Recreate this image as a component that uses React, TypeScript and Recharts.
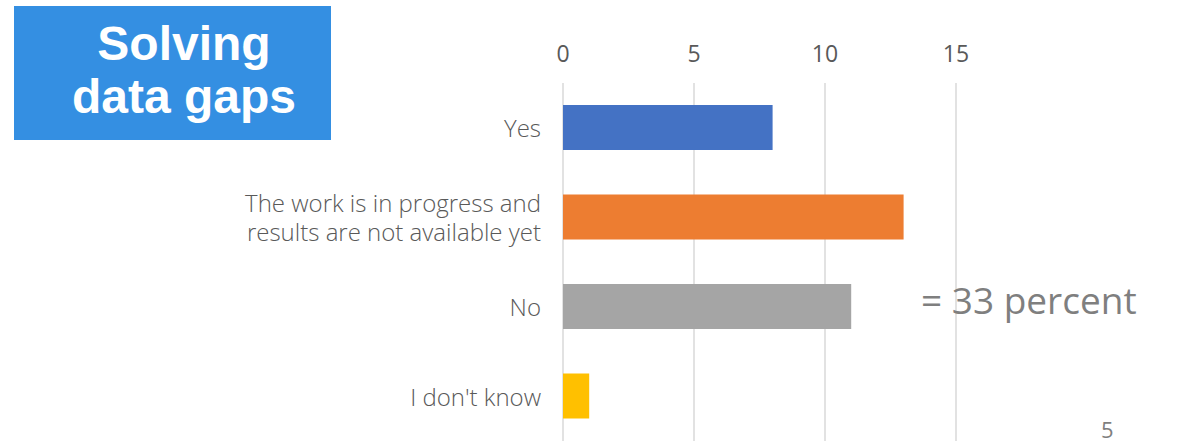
import React from "react";
import { BarChart, Bar, XAxis, YAxis, CartesianGrid, Cell } from "recharts";

const categories = ["Yes", "The work is in progress and\nresults are not available yet", "No", "I don't know"];
const values = [8, 13, 11, 1];
const colors = ["#4472C4", "#ED7D31", "#A5A5A5", "#FFC000"];
const xTicks = [0, 5, 10, 15];

const data = categories.map((c, i) => ({ name: c, value: values[i] }));

const CatTick = (props: any) => {
  const { x, y, payload } = props;
  const lines = String(payload.value).split("\n");
  const lh = 29;
  const start = -((lines.length - 1) * lh) / 2;
  return (
    <text
      x={x}
      y={y}
      textAnchor="end"
      fill="#595959"
      fontFamily="'Open Sans', sans-serif"
      fontWeight={300}
      fontSize={24}
    >
      {lines.map((l, i) => (
        <tspan key={i} x={x} dy={i === 0 ? start : lh} dominantBaseline="central">
          {l}
        </tspan>
      ))}
    </text>
  );
};

export default function App() {
  return (
    <div style={{ position: "absolute", left: 0, top: 0, width: 1191, height: 441, background: "#fff", overflow: "hidden" }}>
      <BarChart
        width={1191}
        height={441}
        data={data}
        layout="vertical"
        margin={{ top: 43, right: 235, bottom: 0, left: 0 }}
        barSize={45}
      >
        <CartesianGrid horizontal={false} stroke="#d9d9d9" strokeWidth={1.5} />
        <XAxis
          type="number"
          orientation="top"
          domain={[0, 15]}
          ticks={xTicks}
          height={40}
          axisLine={false}
          tickLine={false}
          tickMargin={15}
          tick={{ fill: "#595959", fontSize: 23, fontFamily: "'Open Sans', sans-serif", fontWeight: 400 }}
        />
        <YAxis
          type="category"
          dataKey="name"
          width={563}
          axisLine={false}
          tickLine={false}
          tickMargin={16}
          tick={<CatTick />}
        />
        <Bar dataKey="value" isAnimationActive={false}>
          {data.map((d, i) => (
            <Cell key={i} fill={colors[i]} />
          ))}
        </Bar>
      </BarChart>
      <div
        style={{
          position: "absolute",
          left: 14,
          top: 6,
          width: 317,
          height: 134,
          background: "#348FE2",
        }}
      />
      <div
        style={{
          position: "absolute",
          left: 34,
          top: 17,
          width: 300,
          textAlign: "center",
          color: "#fff",
          fontFamily: "'Liberation Sans', Arial, sans-serif",
          fontWeight: 700,
          fontSize: 48,
          lineHeight: "53px",
        }}
      >
        Solving
        <br />
        data gaps
      </div>
      <div
        style={{
          position: "absolute",
          left: 921,
          top: 278,
          color: "#7f7f7f",
          fontFamily: "'Open Sans', sans-serif",
          fontSize: 37,
          lineHeight: "44px",
          whiteSpace: "nowrap",
        }}
      >
        = 33 percent
      </div>
      <div
        style={{
          position: "absolute",
          left: 1101,
          top: 416,
          color: "#7f7f7f",
          fontFamily: "'Open Sans', sans-serif",
          fontSize: 22,
          lineHeight: "26px",
        }}
      >
        5
      </div>
    </div>
  );
}
